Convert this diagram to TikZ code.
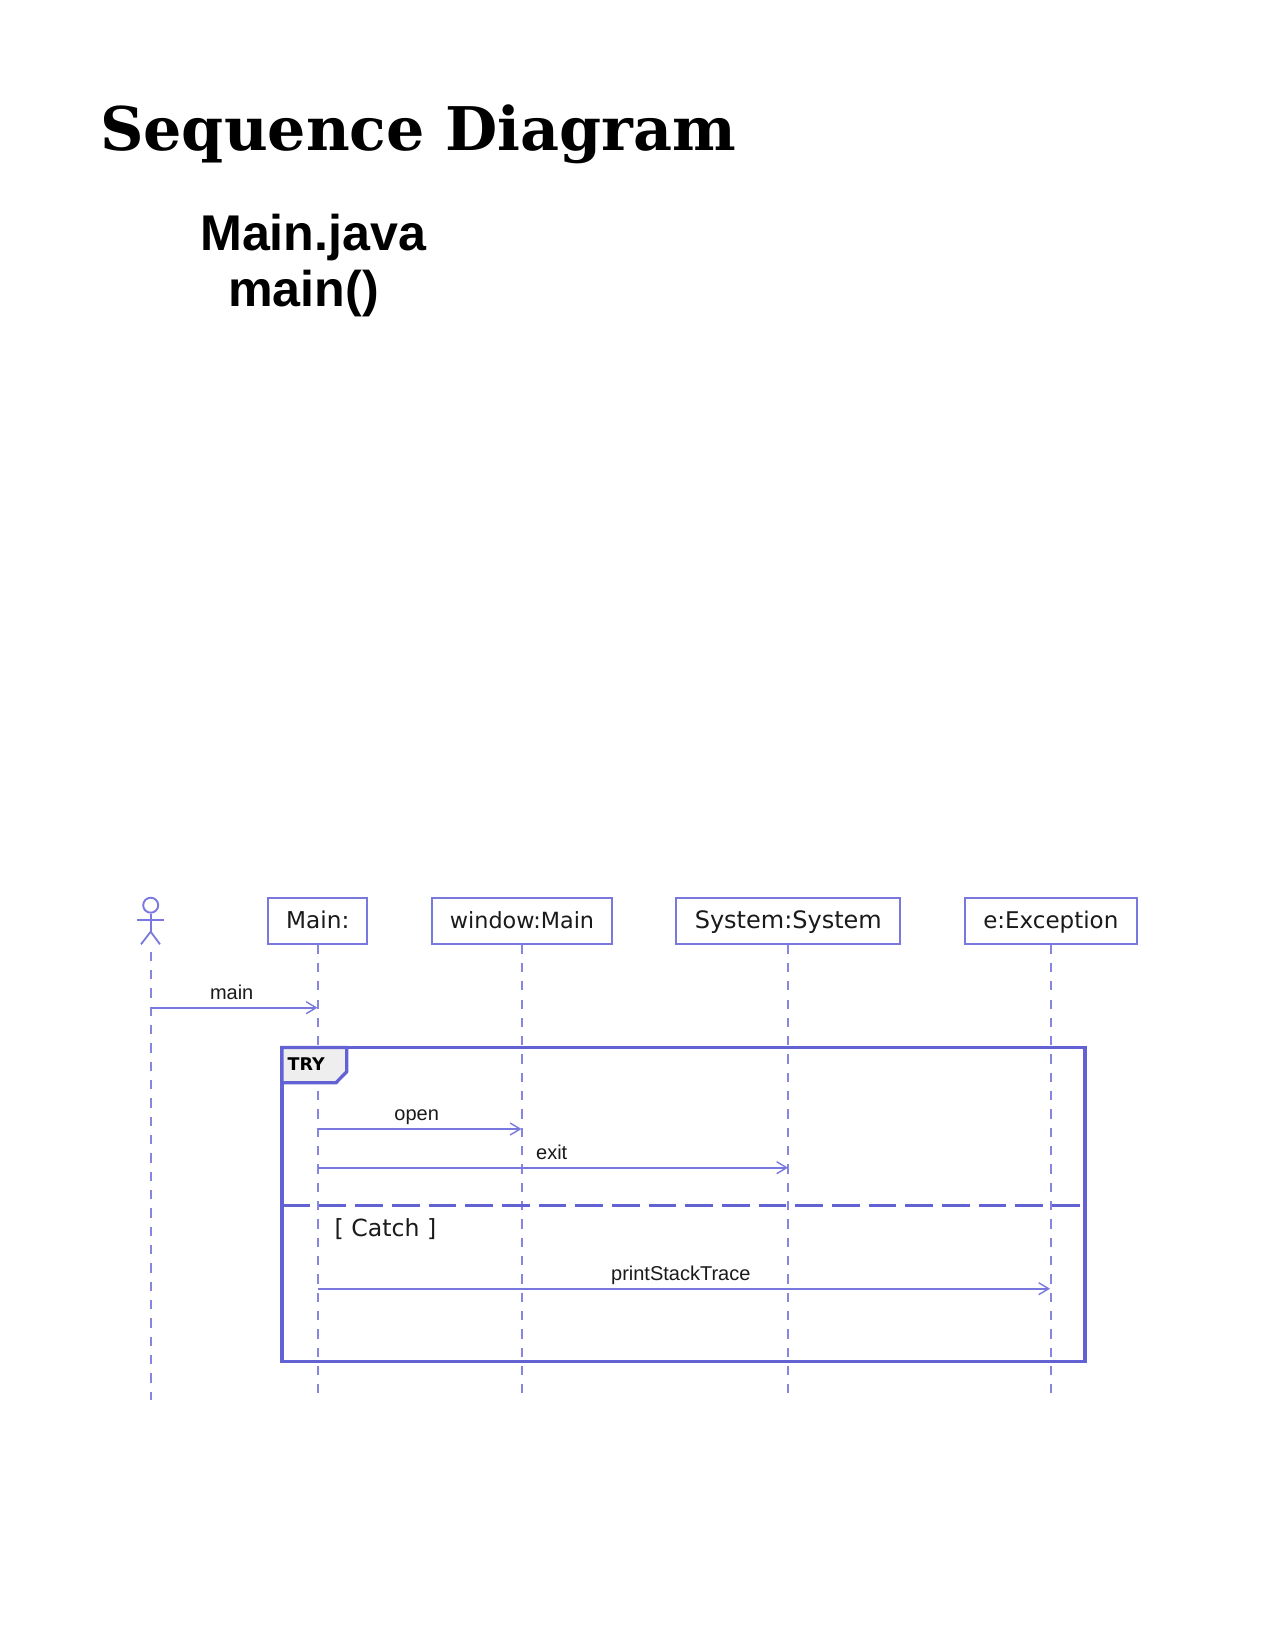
\documentclass[tikz,border=0pt]{standalone}
\usepackage{fontspec}
\usetikzlibrary{arrows.meta}
\newfontfamily\serfam{DejaVu Serif}
\newfontfamily\libfam{Liberation Sans}
\newfontfamily\djfam{DejaVu Sans}
\newcommand\fsz[1]{\fontsize{#1}{#1}\selectfont}
\definecolor{framec}{HTML}{6262D4}
\definecolor{linec}{HTML}{7878DE}
\definecolor{dashc}{HTML}{8686E0}
\definecolor{txtc}{HTML}{1A1A1A}
\definecolor{tabc}{HTML}{EEEEEE}
\tikzset{
  x=1pt,y=-1pt,
  pbox/.style={draw=linec,line width=2pt,fill=white,inner sep=0pt,minimum height=46pt,
    text height=20pt,text depth=4.4pt,text=txtc,align=center},
  life/.style={draw=dashc,line width=2pt,dash pattern=on 9.2pt off 9.13pt},
  msg/.style={draw=linec,line width=1.9pt,-{Straight Barb[length=10pt,width=12pt,line width=1.4pt]}},
  msglabel/.style={anchor=base,inner sep=0pt,text=txtc,font=\libfam\fsz{20}},
  actorline/.style={draw=linec,line width=1.8pt},
}
\begin{document}
\begin{tikzpicture}
\useasboundingbox (0,0) rectangle (1275,1650);
\fill[white] (0,0) rectangle (1275,1650);

% titles
\node[anchor=base west,inner sep=0pt,font=\serfam\bfseries\fsz{60.2}] (title) at (100,150) {Sequence Diagram};
\node[anchor=base west,inner sep=0pt,font=\libfam\bfseries\fsz{50.2}] (file) at (200,250) {Main.java};
\node[anchor=base west,inner sep=0pt,font=\libfam\bfseries\fsz{50.2}] (func) at (228,306) {main()};

% lifeline ends
\coordinate (actorTop) at (150.7,951.7);
\coordinate (actorEnd) at (150.7,1399.5);
\coordinate (mainEnd) at (317.7,1392.5);
\coordinate (windowEnd) at (522,1392.5);
\coordinate (systemEnd) at (788.3,1392.5);
\coordinate (excEnd) at (1050.8,1392.5);

% participants
\node[pbox,minimum width=99.3pt,font=\djfam\fsz{23.2}] (main) at (317.7,920.5) {Main:};
\node[pbox,minimum width=180pt,font=\djfam\fsz{22.3}] (window) at (522,920.5) {window:Main};
\node[pbox,minimum width=223.7pt,font=\djfam\fsz{24}] (system) at (788.3,920.5) {System:System};
\node[pbox,minimum width=172pt,font=\djfam\fsz{23}] (exc) at (1050.8,920.5) {e:Exception};

% actor
\node[circle,draw=linec,line width=1.9pt,minimum size=15pt,inner sep=0pt] (head) at (150.7,905.2) {};
\coordinate (armL) at (137,920);
\coordinate (armR) at (164,920);
\coordinate (hip) at (150.7,931.7);
\coordinate (legL) at (141,944.3);
\coordinate (legR) at (160,944.3);
\draw[actorline] (head.south) -- (hip);
\draw[actorline] (armL) -- (armR);
\draw[actorline] (legL) -- (hip) -- (legR);

% lifelines
\draw[life] (actorTop) -- (actorEnd);
\draw[life] (main.south) -- (mainEnd);
\draw[life] (window.south) -- (windowEnd);
\draw[life] (system.south) -- (systemEnd);
\draw[life] (exc.south) -- (excEnd);

% fragment
\draw[framec,line width=3.3pt,line join=miter] (282,1047.5) rectangle (1085,1361.3);
\path[draw=framec,fill=tabc,line width=3.3pt,line join=miter]
  (282,1047.5) -- (346.7,1047.5) -- (346.7,1071.7) -- (336,1082.7) -- (282,1082.7) -- cycle;
\node[anchor=base west,inner sep=0pt,text=black,font=\djfam\bfseries\fsz{17.5}] (try) at (287.5,1070.7) {TRY};
\coordinate (sepL) at (282,1205.3);
\coordinate (sepR) at (1081,1205.3);
\draw[framec,line width=3.3pt,dash pattern=on 27.5pt off 9.17pt] (sepL) -- (sepR);
\node[anchor=base,inner sep=0pt,text=txtc,font=\djfam\fsz{23.6}] (catch) at (385.5,1236) {[ Catch ]};

% messages
\coordinate (m0a) at (150.7,1007.7);
\coordinate (m0b) at (317.5,1007.7);
\coordinate (m1a) at (317.7,1129);
\coordinate (m1b) at (521.5,1129);
\coordinate (m2a) at (317.7,1167.7);
\coordinate (m2b) at (788,1167.7);
\coordinate (m3a) at (317.7,1288.7);
\coordinate (m3b) at (1050,1288.7);
\draw[msg] (m0a) -- (m0b);
\draw[msg] (m1a) -- (m1b);
\draw[msg] (m2a) -- (m2b);
\draw[msg] (m3a) -- (m3b);
\node[msglabel] (lmain) at (231.7,999.3) {main};
\node[msglabel] (lopen) at (416.7,1120.7) {open};
\node[msglabel] (lexit) at (551.7,1159) {exit};
\node[msglabel] (lpst) at (680.8,1280.7) {printStackTrace};
\end{tikzpicture}
\end{document}
